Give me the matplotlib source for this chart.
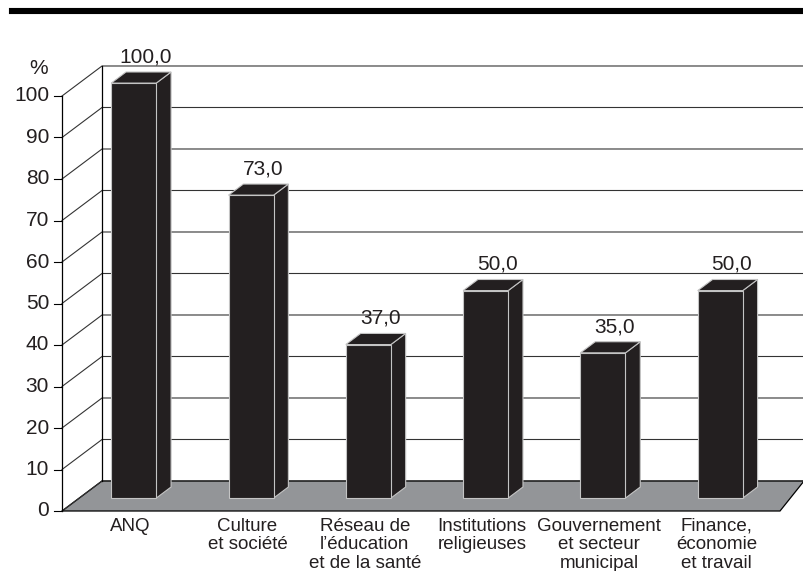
import matplotlib
matplotlib.use("Agg")
import matplotlib.pyplot as plt
from matplotlib.patches import Polygon, Rectangle
from matplotlib.lines import Line2D

plt.rcParams['font.family'] = ['Liberation Sans', 'DejaVu Sans']

# données
categories = ["ANQ", "Culture\net société", "Réseau de\nl’éducation\net de la santé",
              "Institutions\nreligieuses", "Gouvernement\net secteur\nmunicipal",
              "Finance,\néconomie\net travail"]
values = [100.0, 73.0, 37.0, 50.0, 35.0, 50.0]
yticks = list(range(0, 101, 10))

# géométrie pseudo-3D (en unités de données)
X0, X1 = -0.465, 5.656      # limites du plan avant
DX, DY = 0.341, 7.23        # décalage de profondeur (fond du graphique)
BAR_D0, BAR_D1 = 0.43, 0.80  # profondeur des barres
BAR_HW = 0.192
BAR_COLOR = '#231f20'
EDGE = '#c4c4c4'
FLOOR = '#939598'
TXT = '#231f20'


def proj(x, y, d):
    return (x + d * DX, y + d * DY)


fig = plt.figure(figsize=(8.04, 5.71), dpi=100)
W, H = 804, 571
ax = fig.add_axes([62 / W, (H - 511) / H, (780 - 62) / W, (511 - 96) / H])
ax.set_xlim(X0, X1)
ax.set_ylim(0, 100)
ax.axis('off')

# trait épais en haut
fig.add_artist(Line2D([12 / W, 1], [1 - 11 / H] * 2, color='black', lw=4.4))

# sol
floor = Polygon([proj(X0, 0, 0), proj(X1, 0, 0),
                 (X1 + 24 / 117.3, DY), proj(X0, 0, 1)],
                closed=True, facecolor=FLOOR, edgecolor='black', lw=0.9,
                clip_on=False, zorder=1)
ax.add_patch(floor)

# grille : segment oblique + ligne horizontale au fond
for v in yticks:
    p0 = proj(X0, v, 0)
    p1 = proj(X0, v, 1)
    p2 = proj(X1 + 1, v, 1)
    ax.plot([p0[0], p1[0], p2[0]], [p0[1], p1[1], p2[1]], color='#333333',
            lw=0.8, clip_on=False, zorder=2, solid_joinstyle='miter')
    # tick
    ax.plot([X0 - 0.07, X0], [v, v], color='black', lw=0.8, clip_on=False, zorder=2)
    ax.text(X0 - 0.11, v, str(v), ha='right', va='center', fontsize=15, color=TXT)

# axes verticaux
ax.plot([X0, X0], [0, 100], color='black', lw=0.9, clip_on=False, zorder=2)
b0, b1 = proj(X0, 0, 1), proj(X0, 100, 1)
ax.plot([b0[0], b1[0]], [b0[1], b1[1]], color='black', lw=0.9, clip_on=False, zorder=2)
ax.text(X0 - 0.2, 106.7, '%', ha='center', va='center', fontsize=15, color=TXT)

# barres
for i, (cat, v) in enumerate(zip(categories, values)):
    xc = i
    xl, xr = xc - BAR_HW, xc + BAR_HW
    f_bl = proj(xl, 0, BAR_D0)
    f_br = proj(xr, 0, BAR_D0)
    f_tl = proj(xl, v, BAR_D0)
    f_tr = proj(xr, v, BAR_D0)
    b_br = proj(xr, 0, BAR_D1)
    b_tr = proj(xr, v, BAR_D1)
    b_tl = proj(xl, v, BAR_D1)
    side = Polygon([f_br, b_br, b_tr, f_tr], closed=True, facecolor=BAR_COLOR,
                   edgecolor=EDGE, lw=0.8, clip_on=False, zorder=5)
    top = Polygon([f_tl, f_tr, b_tr, b_tl], closed=True, facecolor=BAR_COLOR,
                  edgecolor=EDGE, lw=0.8, clip_on=False, zorder=5)
    front = Rectangle(f_bl, 2 * BAR_HW, v, facecolor=BAR_COLOR,
                      edgecolor=EDGE, lw=0.8, clip_on=False, zorder=6)
    ax.add_patch(side)
    ax.add_patch(top)
    ax.add_patch(front)

    # étiquette de valeur
    ax.text(f_tl[0] + BAR_HW + 0.1, b_tr[1] + 2.3, f"{v:.1f}".replace('.', ','),
            ha='center', va='baseline', fontsize=15, color=TXT, zorder=7)
    # étiquette de catégorie
    ax.text(f_bl[0] + BAR_HW - 0.03, -1.6, cat, ha='center', va='top',
            fontsize=13.5, color=TXT, linespacing=1.13)

fig.savefig('out.png', dpi=100)
